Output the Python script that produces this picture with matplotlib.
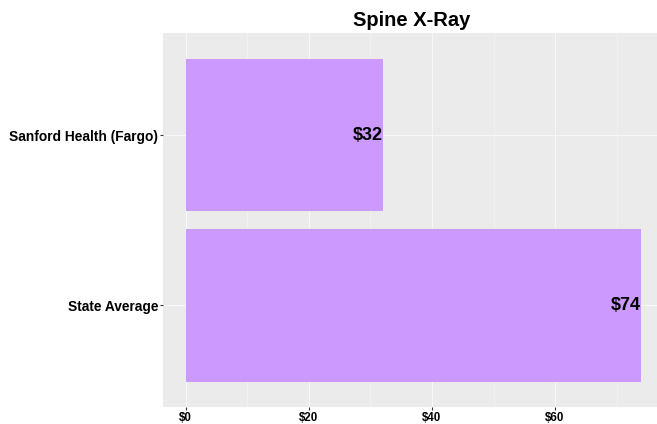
import matplotlib.pyplot as plt
from matplotlib.ticker import MultipleLocator

plt.rcParams['font.family'] = ['Liberation Sans', 'DejaVu Sans']

providers = ["Sanford Health (Fargo)", "State Average"]
prices = [32, 74]
xticks = [0, 20, 40, 60]
xtick_labels = ["$0", "$20", "$40", "$60"]

fig = plt.figure(figsize=(6.57, 4.24), dpi=100)
ax = fig.add_axes([163 / 657, 17 / 424, 501 / 657, 374 / 424])
ax.set_facecolor("#EBEBEB")

ypos = [1, 2]
ax.barh(ypos, prices, height=0.9, color="#CC99FF", zorder=2)
for y, v in zip(ypos, prices):
    ax.text(v, y, f"${v}", ha="right", va="center", fontsize=13,
            fontweight="bold", zorder=3)

ax.set_ylim(2.6, 0.4)
ax.set_yticks(ypos)
ax.set_yticklabels(providers, fontsize=9.9, fontweight="bold")

ax.set_xlim(-0.05 * 74, 74 * 1.05)
ax.set_xticks(xticks)
ax.set_xticklabels(xtick_labels, fontsize=8.3, fontweight="bold")
ax.xaxis.set_minor_locator(MultipleLocator(10))

ax.grid(True, which="major", color="#F7F7F7", linewidth=0.8, zorder=0)
ax.grid(True, which="minor", axis="x", color="#F4F4F4", linewidth=0.5, zorder=0)
ax.set_axisbelow(True)
ax.tick_params(which="major", length=2.5, color="#333333", pad=1)
ax.tick_params(which="minor", length=0)
for s in ax.spines.values():
    s.set_visible(False)

fig.text(412 / 657, 1 - 20 / 424, "Spine X-Ray", ha="center", va="center",
         fontsize=14.5, fontweight="bold")

fig.savefig("out.png", dpi=100)
